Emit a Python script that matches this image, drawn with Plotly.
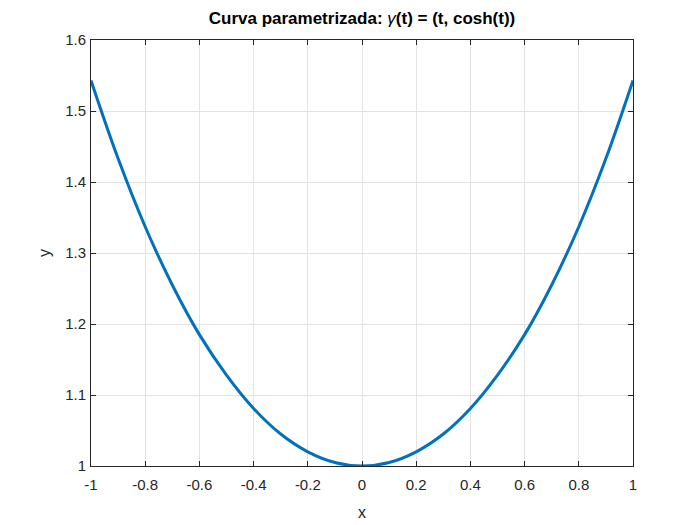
import plotly.graph_objects as go

# Values
t_vals = [-1.0, -0.9, -0.8, -0.7, -0.6, -0.5, -0.4, -0.3, -0.2, -0.1, 0.0,
          0.1, 0.2, 0.3, 0.4, 0.5, 0.6, 0.7, 0.8, 0.9, 1.0]
y_vals = [1.543, 1.433, 1.337, 1.255, 1.185, 1.128, 1.081, 1.045, 1.020, 1.005, 1.000,
          1.005, 1.020, 1.045, 1.081, 1.128, 1.185, 1.255, 1.337, 1.433, 1.543]
x_ticks = [-1, -0.8, -0.6, -0.4, -0.2, 0, 0.2, 0.4, 0.6, 0.8, 1]
x_tick_labels = ["-1", "-0.8", "-0.6", "-0.4", "-0.2", "0", "0.2", "0.4", "0.6", "0.8", "1"]
y_ticks = [1, 1.1, 1.2, 1.3, 1.4, 1.5, 1.6]
y_tick_labels = ["1", "1.1", "1.2", "1.3", "1.4", "1.5", "1.6"]

FONT = "Liberation Sans, Arial, sans-serif"

fig = go.Figure()
fig.add_trace(go.Scatter(x=t_vals, y=y_vals, mode="lines",
                         line=dict(color="#0072BD", width=3, shape="spline", smoothing=1.0),
                         showlegend=False))

axis_common = dict(showgrid=True, gridcolor="#e3e3e3", gridwidth=1,
                   showline=True, linecolor="#262626", linewidth=1, mirror="allticks",
                   ticks="inside", ticklen=5, tickcolor="#262626", zeroline=False,
                   automargin=False,
                   tickfont=dict(family=FONT, size=15, color="#262626"))

fig.update_layout(
    width=700, height=525,
    margin=dict(l=83, r=75, t=32, b=67),
    paper_bgcolor="white", plot_bgcolor="white",
    title=dict(text="<b>Curva parametrizada: </b><i>γ</i><b>(t) = (t, cosh(t))</b>",
               x=(83 + 625) / 2 / 700, xanchor="center", y=1 - 10 / 525, yanchor="middle",
               font=dict(family=FONT, size=17, color="black")),
    xaxis=dict(range=[-1, 1], tickvals=x_ticks, ticktext=x_tick_labels,
               ticklabelstandoff=5,
               title=dict(text="x", standoff=14,
                          font=dict(family=FONT, size=16, color="#262626")),
               **axis_common),
    yaxis=dict(range=[1, 1.6], tickvals=y_ticks, ticktext=y_tick_labels,
               ticklabelstandoff=1,
               title=dict(text="y", standoff=10,
                          font=dict(family=FONT, size=16, color="#262626")),
               **axis_common),
)

fig.write_html("out.html")
